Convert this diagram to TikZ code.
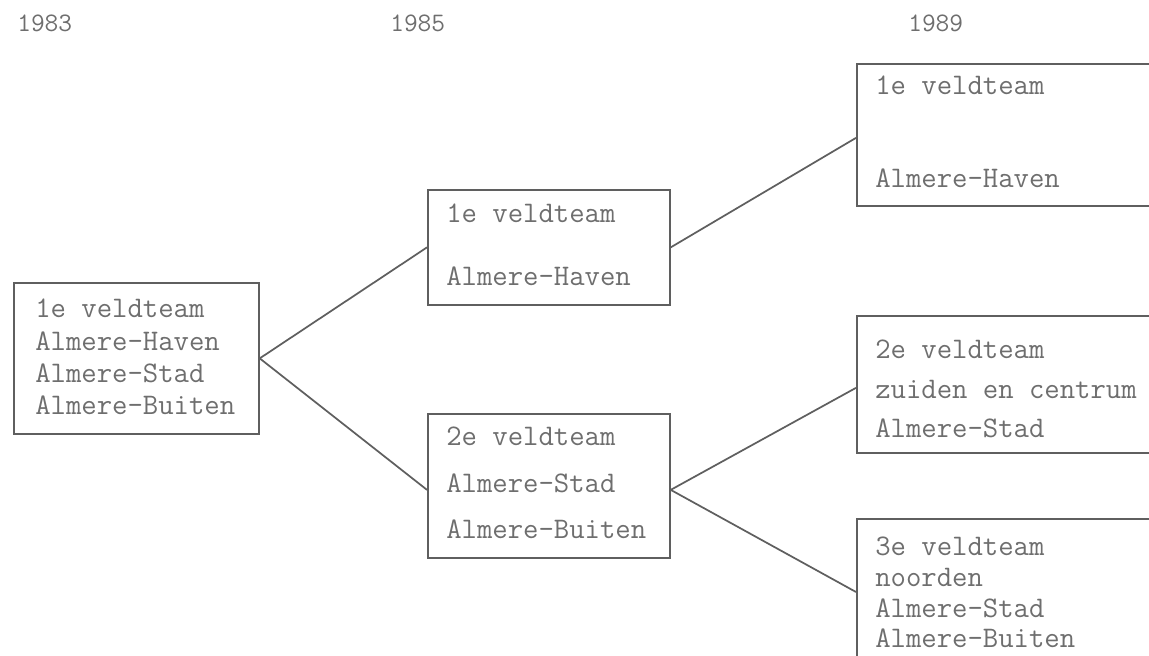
\documentclass[tikz,border=0pt]{standalone}
\definecolor{linegray}{RGB}{95,95,95}
\definecolor{textgray}{RGB}{110,110,110}
\begin{document}
\begin{tikzpicture}[x=0.75pt,y=-0.75pt,
  box/.style={draw=linegray, line width=1.3pt, rectangle, inner sep=0pt, anchor=north west},
  link/.style={draw=linegray, line width=1.3pt},
  txt/.style={anchor=base west, inner sep=0pt, text=textgray,
    font=\ttfamily\fontsize{22.4}{24}\selectfont},
  year/.style={txt, font=\ttfamily\fontsize{20}{22}\selectfont},
]
\useasboundingbox (0,0) rectangle (1149,656);
\clip (0,0) rectangle (1149,656);

% column headings
\node[year] (y83) at (17,32) {1983};
\node[year] (y85) at (390,32) {1985};
\node[year] (y89) at (908,32) {1989};

% 1983
\node[box, minimum width=183.75pt, minimum height=113.25pt] (A) at (13,282) {};
\node[txt] (a1) at (35,317) {1e veldteam};
\node[txt] (a2) at (35,350) {Almere-Haven};
\node[txt] (a3) at (35,382) {Almere-Stad};
\node[txt] (a4) at (35,414) {Almere-Buiten};

% 1985
\node[box, minimum width=181.5pt, minimum height=86.25pt] (B) at (427,189) {};
\node[txt] (b1) at (446,223) {1e veldteam};
\node[txt] (b2) at (446,285) {Almere-Haven};

\node[box, minimum width=181.5pt, minimum height=108pt] (C) at (427,413) {};
\node[txt] (c1) at (446,445) {2e veldteam};
\node[txt] (c2) at (446,492) {Almere-Stad};
\node[txt] (c3) at (446,538) {Almere-Buiten};

% 1989 (boxes run past the right and bottom edges)
\node[box, minimum width=300pt, minimum height=106.5pt] (D) at (856,63) {};
\node[txt] (d1) at (875,95) {1e veldteam};
\node[txt] (d2) at (875,188) {Almere-Haven};

\node[box, minimum width=300pt, minimum height=102.75pt] (E) at (856,315) {};
\node[txt] (e1) at (875,358) {2e veldteam};
\node[txt] (e2) at (875,398) {zuiden en centrum};
\node[txt] (e3) at (875,437) {Almere-Stad};

\node[box, minimum width=300pt, minimum height=150pt] (F) at (856,518) {};
\node[txt] (f1) at (875,555) {3e veldteam};
\node[txt] (f2) at (875,586) {noorden};
\node[txt] (f3) at (875,617) {Almere-Stad};
\node[txt] (f4) at (875,647) {Almere-Buiten};

% connectors
\draw[link] (A.east) -- (B.west);
\draw[link] (A.east) -- ([yshift=-3pt]C.west);
\draw[link] (B.east) -- ([yshift=-2.25pt]D.west);
\draw[link] ([yshift=-3pt]C.east) -- ([yshift=-2.6pt]E.west);
\draw[link] ([yshift=-3pt]C.east) -- ([yshift=-55.5pt]F.north west);
\end{tikzpicture}
\end{document}
